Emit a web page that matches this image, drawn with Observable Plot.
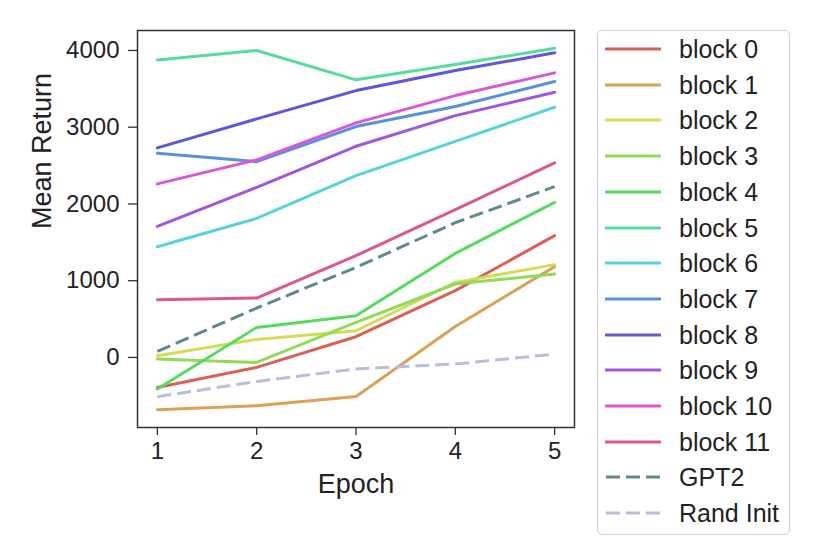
<!DOCTYPE html>
<html>
<head>
<meta charset="utf-8">
<script src="https://cdn.jsdelivr.net/npm/d3@7"></script>
<script src="https://cdn.jsdelivr.net/npm/@observablehq/plot@0.6"></script>
<style>
  html, body { margin: 0; padding: 0; background: #fff; }
  #wrap { position: relative; width: 830px; height: 554px; font-family: "Liberation Sans", Arial, sans-serif; }
  #legend { position: absolute; left: 597px; top: 30px; width: 193px; height: 505px; box-sizing: border-box;
            border: 1px solid #d0d0d0; border-radius: 5px; background: #fff; }
  .item { position: absolute; left: 0; height: 24px; display: flex; align-items: center; }
  .item span { font-size: 25px; color: #222; margin-left: 18px; white-space: nowrap; line-height: 24px; }
</style>
</head>
<body>
<div id="wrap"></div>
<script>
const epochs = [1, 2, 3, 4, 5];
const seriesNames = ["block 0","block 1","block 2","block 3","block 4","block 5","block 6","block 7","block 8","block 9","block 10","block 11","GPT2","Rand Init"];
const block0  = [-391, -130, 270, 870, 1587];
const block1  = [-682, -630, -508, 404, 1183];
const block2  = [22, 235, 348, 978, 1209];
const block3  = [-21, -65, 456, 957, 1087];
const block4  = [-412, 391, 544, 1356, 2021];
const block5  = [3877, 3999, 3617, 3816, 4029];
const block6  = [1443, 1812, 2369, 2816, 3260];
const block7  = [2660, 2551, 3008, 3269, 3595];
const block8  = [2730, 3108, 3477, 3738, 3969];
const block9  = [1708, 2217, 2751, 3151, 3455];
const block10 = [2261, 2574, 3056, 3412, 3708];
const block11 = [752, 774, 1326, 1925, 2535];
const gpt2    = [78, 644, 1173, 1756, 2226];
const randInit = [-512, -313, -151, -86, 44];
const yTicks = [0, 1000, 2000, 3000, 4000];
const colors = ["#db5f57","#dba157","#d3db57","#91db57","#57db5f","#57dba1","#57d3db","#5791db","#5f57db","#a157db","#db57d3","#db5791","#5f8a87","#bcbce0"];
const dashes = [null,null,null,null,null,null,null,null,null,null,null,null,"14,6","14,6"];

const allValues = [block0,block1,block2,block3,block4,block5,block6,block7,block8,block9,block10,block11,gpt2,randInit];
const data = [];
allValues.forEach((vals, i) => vals.forEach((v, j) => data.push({series: seriesNames[i], epoch: epochs[j], value: v, idx: i})));

const font = "'Liberation Sans', Arial, sans-serif";
const marks = [];
seriesNames.forEach((name, i) => {
  marks.push(Plot.line(data.filter(d => d.idx === i), {
    x: "epoch", y: "value", stroke: colors[i], strokeWidth: 3,
    strokeDasharray: dashes[i] || undefined, strokeLinecap: dashes[i] ? "butt" : "round", strokeLinejoin: "round"
  }));
});
marks.push(Plot.frame({stroke: "#333", strokeWidth: 1.5}));
marks.push(Plot.axisX({ticks: epochs, tickSize: 8, tickPadding: 6, tickFormat: d3.format("d"), fontSize: 24, label: null, stroke: "#333", strokeWidth: 1.3}));
marks.push(Plot.axisY({ticks: yTicks, tickSize: 9, tickPadding: 9, tickFormat: d3.format("d"), fontSize: 24, label: null, stroke: "#333", strokeWidth: 1.3}));
marks.push(Plot.text(["Epoch"], {frameAnchor: "bottom", dy: 65, fontSize: 27, fill: "#222"}));
marks.push(Plot.text(["Mean Return"], {frameAnchor: "left", dx: -95, rotate: -90, fontSize: 27, fill: "#222"}));

const chart = Plot.plot({
  width: 590, height: 554,
  marginLeft: 137, marginRight: 16, marginTop: 30, marginBottom: 127,
  style: {fontFamily: font, color: "#222", background: "#fff", overflow: "visible"},
  x: {domain: [0.8, 5.2]},
  y: {domain: [-913, 4260]},
  marks
});
chart.style.position = "absolute";
chart.style.left = "0px";
chart.style.top = "0px";
const wrap = document.getElementById("wrap");
wrap.appendChild(chart);

const legend = document.createElement("div");
legend.id = "legend";
seriesNames.forEach((name, i) => {
  const item = document.createElement("div");
  item.className = "item";
  item.style.top = (6 + 35.7 * i) + "px";
  item.style.left = "7px";
  const svg = d3.create("svg").attr("width", 56).attr("height", 24);
  svg.append("line").attr("x1", 1).attr("x2", 55).attr("y1", 12).attr("y2", 12)
    .attr("stroke", colors[i]).attr("stroke-width", 3)
    .attr("stroke-linecap", dashes[i] ? "butt" : "round")
    .attr("stroke-dasharray", dashes[i] || null);
  item.appendChild(svg.node());
  const s = document.createElement("span");
  s.textContent = name;
  item.appendChild(s);
  legend.appendChild(item);
});
wrap.appendChild(legend);
</script>
</body>
</html>
